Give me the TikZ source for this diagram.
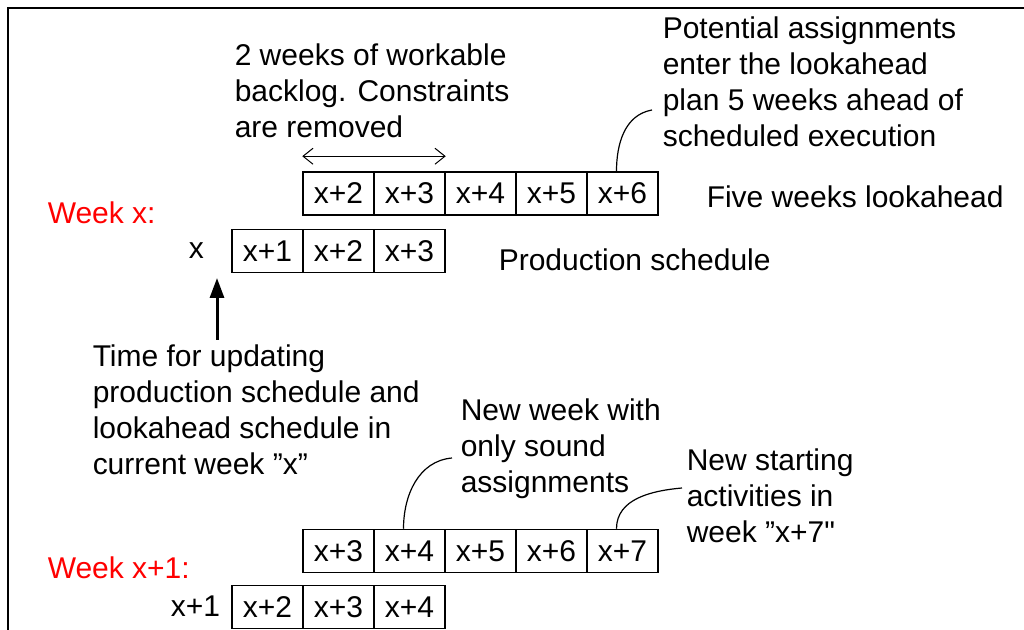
\documentclass[tikz,border=0pt]{standalone}
\usepackage{fontspec}
\setmainfont{Liberation Sans}
\usetikzlibrary{arrows.meta}
\begin{document}
\begin{tikzpicture}[x=0.5pt, y=-0.5pt, line width=0.75pt,
  font=\fontsize{15}{18}\selectfont,
  cell/.style={draw, minimum width=35.5pt, minimum height=21.5pt, inner sep=0pt},
  lbl/.style={anchor=west, inner sep=0pt},
  week/.style={lbl, text=red},
  note/.style={anchor=north west, align=left, inner sep=0pt},
  lead/.style={line width=0.6pt}]
  \useasboundingbox (0,0) rectangle (1024,630);
  % frame
  \draw[line width=1pt] (1024,8) -- (8,8) -- (8,630);

  % week x
  \node[week] (wx) at (47,213) {Week x:};
  \foreach \i [count=\k from 0] in {2,...,6}
    \node[cell] (la\i) at (338.5+71*\k,193.5) {x+\i};
  \foreach \i [count=\k from 0] in {1,2,3}
    \node[cell] (ps\i) at (267.5+71*\k,251) {x+\i};
  \node[lbl] (cur) at (188,251) {x};
  \node[lbl] (fivewk) at (706,197) {Five weeks lookahead};
  \node[lbl] (prodsch) at (498,260) {Production schedule};

  \node[note] (backlog) at (234,43) {2 weeks of workable\\backlog. Constraints\\are removed};
  \draw[{Straight Barb[length=5pt,width=8pt]}-{Straight Barb[length=5pt,width=8pt]}, line width=0.5pt]
    ([yshift=7.5pt]la2.north west) -- ([yshift=7.5pt]la3.north east);
  \node[note] (enter) at (662,16) {Potential assignments\\enter the lookahead\\plan 5 weeks ahead of\\scheduled execution};
  \coordinate (enterend) at (652,110);
  \draw[lead] ([xshift=-3pt]la6.north) to[out=90,in=190] (enterend);

  % update time
  \node[note] (update) at (92,344) {Time for updating\\production schedule and\\lookahead schedule in\\current week ”x”};
  \coordinate (updfrom) at (217,340);
  \coordinate (updto) at (217,278);
  \draw[-{Triangle[length=10pt,width=7pt]}, line width=1.5pt] (updfrom) -- (updto);

  % week x+1
  \node[week] (wx1) at (47,568) {Week x+1:};
  \foreach \i [count=\k from 0] in {3,...,7}
    \node[cell] (lb\i) at (338.5+71*\k,551) {x+\i};
  \foreach \i [count=\k from 0] in {2,3,4}
    \node[cell] (pt\i) at (267.5+71*\k,607) {x+\i};
  \node[lbl] (cur1) at (170,606) {x+1};

  \node[note] (sound) at (460,398) {New week with\\only sound\\assignments};
  \coordinate (soundend) at (452,458);
  \draw[lead] ([xshift=-3pt]lb4.north) to[out=90,in=185] (soundend);
  \node[note] (start) at (686,448) {New starting\\activities in\\week ”x+7\textquotedbl};
  \coordinate (startend) at (682,488);
  \draw[lead] ([xshift=-3pt]lb7.north) to[out=90,in=185] (startend);
\end{tikzpicture}
\end{document}
